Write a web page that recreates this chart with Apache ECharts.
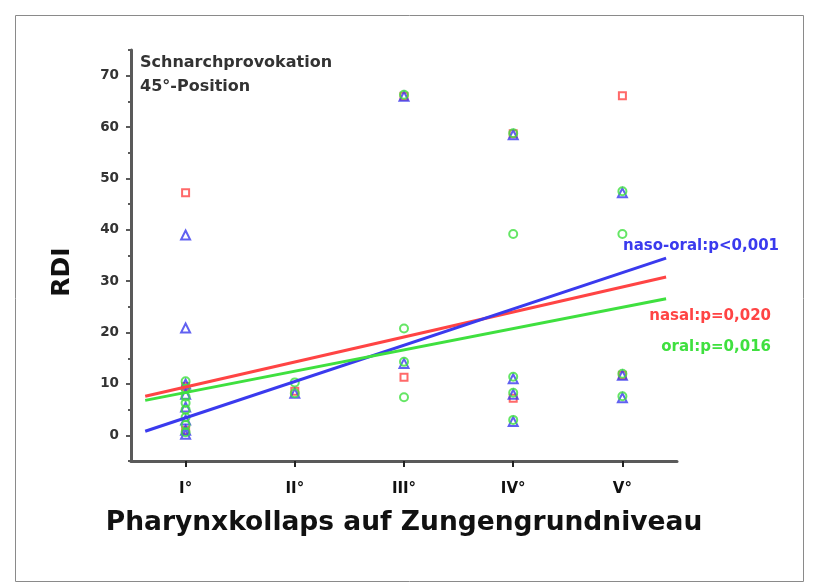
<!DOCTYPE html>
<html>
<head>
<meta charset="utf-8">
<script src="https://cdn.jsdelivr.net/npm/echarts@6/dist/echarts.min.js"></script>
<style>
  html, body { margin: 0; padding: 0; background: #fff; }
  #chart { width: 815px; height: 584px; }
</style>
</head>
<body>
<div id="chart"></div>
<script>
// Collapse grade on the x axis (1 = I°, ... 5 = V°)
const gradeLabels = ['I°', 'II°', 'III°', 'IV°', 'V°'];
const yTicks = [0, 10, 20, 30, 40, 50, 60, 70];
const yMinorTicks = [-5, 5, 15, 25, 35, 45, 55, 65, 75];

// RDI values per patient, [grade, RDI]
const nasal = [
  [1, 47.2], [1, 9.5], [1, 1.0],
  [2, 8.6],
  [3, 66.0], [3, 11.3],
  [4, 58.7], [4, 7.2],
  [5, 66.1], [5, 11.7]
];
const nasoOral = [
  [1, 39.0], [1, 20.9], [1, 10.0], [1, 8.0], [1, 5.5], [1, 3.0], [1, 1.0], [1, 0.2],
  [2, 8.2],
  [3, 66.0], [3, 14.0],
  [4, 58.5], [4, 11.0], [4, 8.0], [4, 2.7],
  [5, 47.2], [5, 11.7], [5, 7.3]
];
const oral = [
  [1, 10.5], [1, 9.0], [1, 7.5], [1, 6.3], [1, 5.0], [1, 3.5], [1, 2.0], [1, 0.6],
  [2, 10.3], [2, 8.2],
  [3, 66.3], [3, 20.8], [3, 14.3], [3, 7.4],
  [4, 58.8], [4, 39.2], [4, 11.4], [4, 8.3], [4, 3.0],
  [5, 47.5], [5, 39.2], [5, 12.0], [5, 7.6]
];

// Regression line end points, [grade, RDI]
const nasalFit = [[0.63, 7.6], [5.4, 30.8]];
const nasoOralFit = [[0.63, 0.8], [5.4, 34.5]];
const oralFit = [[0.63, 6.8], [5.4, 26.6]];

const fitLabels = [
  { text: 'naso-oral:p<0,001', color: '#3a3aee', x: 779, y: 246 },
  { text: 'nasal:p=0,020', color: '#ff4444', x: 771, y: 316 },
  { text: 'oral:p=0,016', color: '#3fe03f', x: 771, y: 347 }
];
const noteLines = ['Schnarchprovokation', '45°-Position'];

const RED = '#ff4444', BLUE = '#3a3aee', GREEN = '#3fe03f';
const FONT = '"DejaVu Sans", "Liberation Sans", sans-serif';

const chart = echarts.init(document.getElementById('chart'), null, { renderer: 'canvas' });

function scatter(name, data, symbol, color, size) {
  return {
    name, type: 'scatter', data, symbol, symbolSize: size,
    itemStyle: { color: 'rgba(255,255,255,0)', borderColor: color, borderWidth: 2 },
    z: 3
  };
}
function fit(name, data, color) {
  return {
    name, type: 'line', data, symbol: 'none',
    lineStyle: { color, width: 3 }, z: 4, silent: true
  };
}

const axisGray = '#5a5a5a';

chart.setOption({
  animation: false,
  backgroundColor: '#fff',
  grid: { left: 131, right: 138, top: 50, bottom: 123 },
  xAxis: {
    type: 'value', min: 0.5, max: 5.5,
    name: 'Pharynxkollaps auf Zungengrundniveau',
    nameLocation: 'middle', nameGap: 49,
    nameTextStyle: { fontFamily: FONT, fontWeight: 'bold', fontSize: 26.5, color: '#111' },
    axisLine: { show: true, onZero: false, lineStyle: { color: axisGray, width: 3 } },
    axisTick: { show: true, customValues: [1, 2, 3, 4, 5], length: 6, lineStyle: { color: '#222', width: 2 } },
    axisLabel: {
      customValues: [1, 2, 3, 4, 5], margin: 21,
      formatter: v => gradeLabels[Math.round(v) - 1] || '',
      fontFamily: FONT, fontWeight: 'bold', fontSize: 15, color: '#111'
    },
    splitLine: { show: false }
  },
  yAxis: [{
    type: 'value', min: -5, max: 75,
    axisLine: { show: true, onZero: false, lineStyle: { color: axisGray, width: 3 } },
    axisTick: { show: true, customValues: yTicks, length: 5, lineStyle: { color: axisGray, width: 2 } },
    axisLabel: {
      customValues: yTicks, margin: 12,
      fontFamily: FONT, fontWeight: 'bold', fontSize: 13.5, color: '#333'
    },
    splitLine: { show: false }
  }, {
    type: 'value', min: -5, max: 75, position: 'left',
    axisLine: { show: false, onZero: false },
    axisTick: { show: true, customValues: yMinorTicks, length: 3, lineStyle: { color: axisGray, width: 2 } },
    axisLabel: { show: false },
    splitLine: { show: false }
  }],
  series: [
    scatter('nasal', nasal, 'rect', RED, 7),
    scatter('naso-oral', nasoOral, 'triangle', BLUE, 9),
    scatter('oral', oral, 'circle', GREEN, 8),
    fit('nasal fit', nasalFit, RED),
    fit('naso-oral fit', nasoOralFit, BLUE),
    fit('oral fit', oralFit, GREEN)
  ],
  graphic: [
    {
      type: 'rect', left: 13, top: 13, silent: true,
      shape: { width: 788, height: 566 },
      style: { fill: 'none', stroke: '#8a8a8a', lineWidth: 1 }
    },
    {
      type: 'text', silent: true, x: 62, y: 272, rotation: Math.PI / 2,
      style: {
        text: 'RDI', fontFamily: FONT, fontWeight: 'bold', fontSize: 25, fill: '#111',
        align: 'center', verticalAlign: 'middle'
      }
    },
    ...noteLines.map((t, i) => ({
      type: 'text', left: 140, top: 55 + i * 24, silent: true,
      style: { text: t, fontFamily: FONT, fontWeight: 'bold', fontSize: 16, fill: '#333' }
    })),
    ...fitLabels.map(l => ({
      type: 'text', silent: true, x: l.x, y: l.y,
      style: {
        text: l.text, fontFamily: FONT, fontWeight: 'bold', fontSize: 15, fill: l.color,
        align: 'right', verticalAlign: 'middle'
      }
    }))
  ]
});
</script>
</body>
</html>
